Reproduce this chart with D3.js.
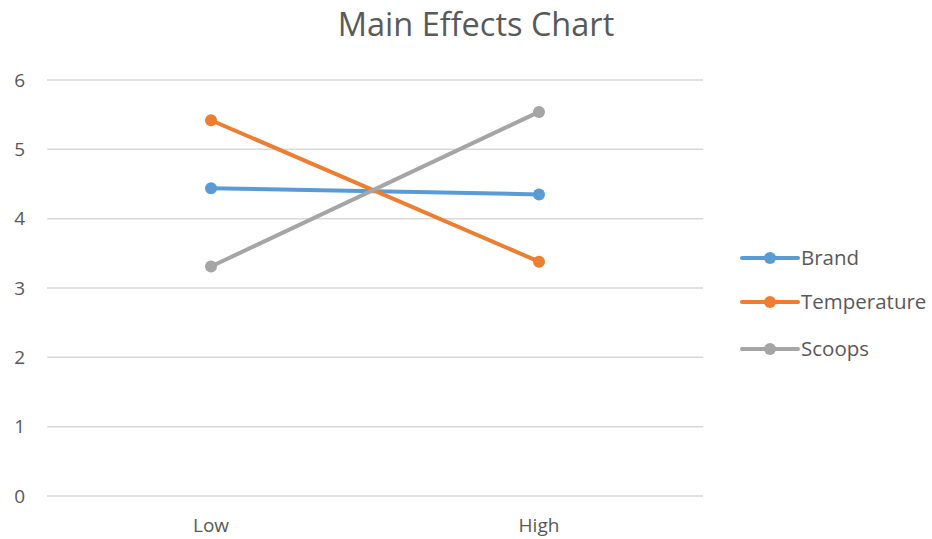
<!DOCTYPE html>
<html>
<head>
<meta charset="utf-8">
<script src="https://cdn.jsdelivr.net/npm/d3@7"></script>
<style>
  html, body { margin: 0; padding: 0; background: #fff; }
  svg { display: block; }
</style>
</head>
<body>
<svg id="chart" width="932" height="539"></svg>
<script>
const categories = ["Low", "High"];
const seriesNames = ["Brand", "Temperature", "Scoops"];
const brandValues = [4.44, 4.35];
const temperatureValues = [5.42, 3.38];
const scoopsValues = [3.31, 5.54];
const yTicks = [0, 1, 2, 3, 4, 5, 6];
const colors = ["#5B9BD5", "#ED7D31", "#A5A5A5"];
const title = "Main Effects Chart";

const series = [
  { name: seriesNames[0], values: brandValues, color: colors[0] },
  { name: seriesNames[1], values: temperatureValues, color: colors[1] },
  { name: seriesNames[2], values: scoopsValues, color: colors[2] }
];

const svg = d3.select("#chart");
const font = "'Open Sans', 'Liberation Sans', sans-serif";
const textColor = "#595959";

const plot = { left: 47, right: 703, top: 80, bottom: 496 };

const x = d3.scaleBand().domain(categories).range([plot.left, plot.right]);
const y = d3.scaleLinear().domain([0, 6]).range([plot.bottom, plot.top]);

// Title
svg.append("text")
  .attr("x", 476).attr("y", 36)
  .attr("text-anchor", "middle")
  .attr("font-family", font)
  .attr("font-size", 32.5)
  .attr("fill", textColor)
  .text(title);

// Gridlines
svg.append("g").selectAll("line").data(yTicks).join("line")
  .attr("x1", plot.left).attr("x2", plot.right)
  .attr("y1", d => y(d)).attr("y2", d => y(d))
  .attr("stroke", "#D9D9D9").attr("stroke-width", 1.5);

// Y axis labels
const yAxis = d3.axisLeft(y).tickValues(yTicks).tickSize(0).tickPadding(0).tickFormat(d3.format("d"));
const gy = svg.append("g").attr("transform", `translate(25,0)`).call(yAxis);
gy.select(".domain").remove();
gy.selectAll("text").attr("font-family", font).attr("font-size", 19).attr("fill", textColor);

// X axis labels
const xAxis = d3.axisBottom(x).tickSize(0).tickPadding(0);
const gx = svg.append("g").attr("transform", `translate(0,${plot.bottom + 22})`).call(xAxis);
gx.select(".domain").remove();
gx.selectAll("text").attr("font-family", font).attr("font-size", 19).attr("fill", textColor);

const cx = d => x(d) + x.bandwidth() / 2;
const line = d3.line().x((d, i) => cx(categories[i])).y(d => y(d));

const gs = svg.append("g").selectAll("g").data(series).join("g");
gs.append("path")
  .attr("d", d => line(d.values))
  .attr("fill", "none")
  .attr("stroke", d => d.color)
  .attr("stroke-width", 4)
  .attr("stroke-linecap", "round");
gs.selectAll("circle").data(d => d.values.map((v, i) => ({ v, i, color: d.color }))).join("circle")
  .attr("cx", d => cx(categories[d.i]))
  .attr("cy", d => y(d.v))
  .attr("r", 6)
  .attr("fill", d => d.color);

// Legend
const legendY = [258, 302, 349];
const lg = svg.append("g").selectAll("g").data(series).join("g")
  .attr("transform", (d, i) => `translate(742,${legendY[i]})`);
lg.append("line").attr("x1", 0).attr("x2", 56).attr("y1", 0).attr("y2", 0)
  .attr("stroke", d => d.color).attr("stroke-width", 4).attr("stroke-linecap", "round");
lg.append("circle").attr("cx", 28).attr("cy", 0).attr("r", 6).attr("fill", d => d.color);
lg.append("text").attr("x", 59).attr("y", 0).attr("dy", "0.35em")
  .attr("font-family", font).attr("font-size", 20.5).attr("fill", textColor)
  .text(d => d.name);
</script>
</body>
</html>
